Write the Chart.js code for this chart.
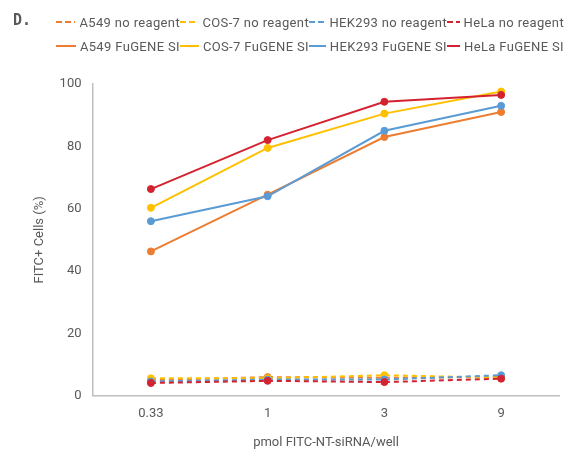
<!DOCTYPE html>
<html>
<head>
<meta charset="utf-8">
<script src="https://cdn.jsdelivr.net/npm/chart.js@4.4.1/dist/chart.umd.min.js"></script>
<style>
  html,body{margin:0;padding:0;background:#fff;}
  #wrap{position:relative;width:564px;height:453px;font-family:Roboto,"Noto Sans",sans-serif;}
  #tag{position:absolute;left:13px;top:11px;font:bold 15px "DejaVu Sans Mono",monospace;color:#595959;}
  #legend{position:absolute;left:56px;top:13px;display:grid;grid-template-columns:124px 129px 138px 117px;row-gap:6px;}
  .item{display:flex;align-items:center;font-size:13px;letter-spacing:0.35px;color:#595959;height:18px;white-space:nowrap;}
  .sw{width:24px;height:2px;margin-right:4px;}
  #cv{position:absolute;left:0;top:0;}
</style>
</head>
<body>
<div id="wrap">
  <canvas id="cv" width="564" height="453"></canvas>
  <div id="tag">D.</div>
  <div id="legend"></div>
</div>
<script>
const doses = ['0.33', '1', '3', '9'];
const cellLines = ['A549', 'COS-7', 'HEK293', 'HeLa'];
const colors = ['#ED7D31', '#FFC000', '#5B9BD5', '#D42330'];

// no reagent controls
const a549None  = [5.0, 6.0, 5.8, 6.0];
const cos7None  = [5.6, 5.6, 6.6, 5.8];
const hek293None = [4.6, 5.2, 5.2, 6.6];
const helaNone  = [4.1, 4.8, 4.4, 5.5];

// FuGENE SI
const a549Fu  = [46.3, 64.5, 83.0, 91.0];
const cos7Fu  = [60.3, 79.5, 90.5, 97.6];
const hek293Fu = [56.0, 64.0, 85.0, 93.0];
const helaFu  = [66.3, 82.0, 94.3, 96.5];

const noneSets = [a549None, cos7None, hek293None, helaNone];
const fuSets = [a549Fu, cos7Fu, hek293Fu, helaFu];

const yTicks = [0, 20, 40, 60, 80, 100];

function ds(label, data, color, dashed, order){
  return {
    label, data,
    borderColor: color, backgroundColor: color,
    pointBackgroundColor: color, pointBorderColor: color,
    borderWidth: 2, pointRadius: 3.5, pointHoverRadius: 3.5, pointBorderWidth: 1,
    borderDash: dashed ? [5,4] : [],
    tension: 0, order
  };
}

const datasets = [];
cellLines.forEach((c,i)=>{
  datasets.push(ds(c+' no reagent', noneSets[i], colors[i], true, 10 - i));
});
cellLines.forEach((c,i)=>{
  datasets.push(ds(c+' FuGENE SI', fuSets[i], colors[i], false, 5 - i));
});

// html legend, 2 rows x 4 columns
const lg = document.getElementById('legend');
datasets.forEach(d=>{
  const it = document.createElement('div');
  it.className = 'item';
  const sw = document.createElement('span');
  sw.className = 'sw';
  sw.style.background = d.borderDash.length
    ? `repeating-linear-gradient(to right, ${d.borderColor} 0 6px, transparent 6px 9px)`
    : d.borderColor;
  it.appendChild(sw);
  it.appendChild(document.createTextNode(d.label));
  lg.appendChild(it);
});

const axisColor = '#BFBFBF';
const tickColor = '#595959';

new Chart(document.getElementById('cv'), {
  type: 'line',
  data: { labels: doses, datasets },
  options: {
    responsive: false,
    animation: false,
    layout: { padding: { top: 84, right: 0, left: 28, bottom: 0 } },
    plugins: { legend: { display: false }, tooltip: { enabled: false } },
    scales: {
      x: {
        offset: true,
        grid: { display: false, drawTicks: true, tickLength: 6, color: axisColor },
        border: { color: axisColor, width: 1.5 },
        ticks: { color: tickColor, font: { family: 'Roboto', size: 13 }, padding: 4 },
        title: { display: true, text: 'pmol FITC-NT-siRNA/well', color: tickColor,
                 font: { family: 'Roboto', size: 13 }, padding: { top: 10, bottom: 2 } }
      },
      y: {
        min: 0, max: 100,
        afterBuildTicks: ax => { ax.ticks = yTicks.map(v=>({value:v})); },
        grid: { display: false, drawTicks: true, tickLength: 5, color: axisColor },
        border: { color: axisColor, width: 1.5 },
        ticks: { color: tickColor, font: { family: 'Roboto', size: 13 }, padding: 6 },
        title: { display: true, text: 'FITC+ Cells (%)', color: tickColor,
                 font: { family: 'Roboto', size: 13 }, padding: { bottom: 6 } }
      }
    }
  }
});
</script>
</body>
</html>
